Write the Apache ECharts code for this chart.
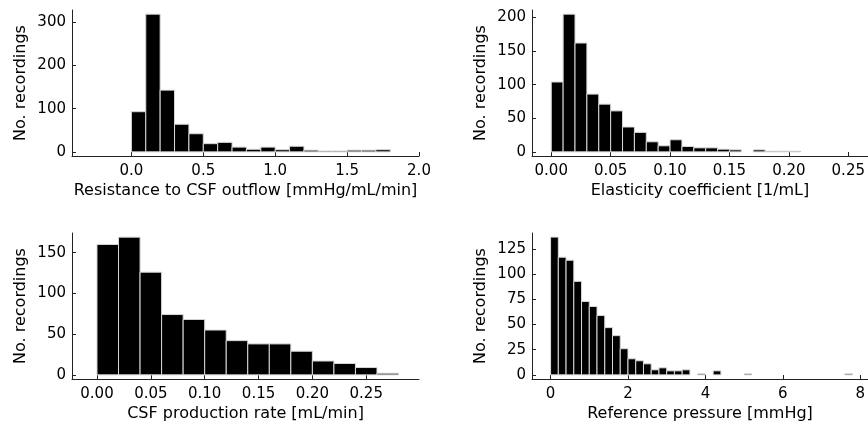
<!DOCTYPE html>
<html>
<head>
<meta charset="utf-8">
<script src="https://cdn.jsdelivr.net/npm/echarts@6/dist/echarts.min.js"></script>
<style>
html,body{margin:0;padding:0;background:#fff;}
#c{width:868px;height:424px;}
</style>
</head>
<body>
<div id="c"></div>
<script>
// ---- Data ----
// Panel 1: Resistance to CSF outflow, bins of 0.1 starting at 0
const resStart = 0, resWidth = 0.1;
const resCounts = [93, 319, 143, 64, 42, 19, 22, 11, 6, 11, 5, 13, 4, 2, 2, 4, 4, 5, 0];
const resTicksX = [0.0, 0.5, 1.0, 1.5, 2.0];
const resTicksY = [0, 100, 200, 300];

// Panel 2: Elasticity coefficient, bins of 0.01 starting at 0
const elaStart = 0, elaWidth = 0.01;
const elaCounts = [104, 205, 162, 86, 71, 61, 37, 29, 15, 9, 18, 8, 6, 6, 4, 3, 0, 3, 1, 1, 1, 0, 0, 0, 0, 0];
const elaTicksX = [0.00, 0.05, 0.10, 0.15, 0.20, 0.25];
const elaTicksY = [0, 50, 100, 150, 200];

// Panel 3: CSF production rate, bins of 0.02 starting at 0
const prodStart = 0, prodWidth = 0.02;
const prodCounts = [160, 169, 126, 74, 68, 55, 42, 38, 38, 29, 17, 14, 9, 2];
const prodTicksX = [0.00, 0.05, 0.10, 0.15, 0.20, 0.25];
const prodTicksY = [0, 50, 100, 150];

// Panel 4: Reference pressure, bins of 0.2 starting at 0
const refStart = 0, refWidth = 0.2;
const refCounts = [137, 117, 114, 93, 73, 68, 59, 47, 39, 26, 16, 14, 11, 5, 7, 4, 4, 5, 0, 1,
                   0, 4, 0, 0, 0, 1, 0, 0, 0, 0, 0, 0, 0, 0, 0, 0, 0, 0, 1];
const refTicksX = [0, 2, 4, 6, 8];
const refTicksY = [0, 25, 50, 75, 100, 125];

const panels = [
  {start: resStart, width: resWidth, counts: resCounts, tx: resTicksX, ty: resTicksY,
   xmin: -0.413, xmax: 2.0, ymin: -9.57, ymax: 328.6, dec: 1,
   xname: 'Resistance to CSF outflow [mmHg/mL/min]', grid: {left: 72, top: 10, width: 347, height: 146}},
  {start: elaStart, width: elaWidth, counts: elaCounts, tx: elaTicksX, ty: elaTicksY,
   xmin: -0.0162, xmax: 0.2666, ymin: -6.15, ymax: 211.15, dec: 2,
   xname: 'Elasticity coefficient [1/mL]', grid: {left: 532, top: 10, width: 336, height: 146}},
  {start: prodStart, width: prodWidth, counts: prodCounts, tx: prodTicksX, ty: prodTicksY,
   xmin: -0.0232, xmax: 0.299, ymin: -5.07, ymax: 174.07, dec: 2,
   xname: 'CSF production rate [mL/min]', grid: {left: 72, top: 233, width: 347, height: 146}},
  {start: refStart, width: refWidth, counts: refCounts, tx: refTicksX, ty: refTicksY,
   xmin: -0.48, xmax: 8.2, ymin: -4.11, ymax: 141.1, dec: 0,
   xname: 'Reference pressure [mmHg]', grid: {left: 532, top: 233, width: 336, height: 146}}
];

const FONT = 'DejaVu Sans';
const AX = '#222';

function renderItem(params, api) {
  const x0 = api.value(0), x1 = api.value(1), y = api.value(2);
  if (!y) return null;
  const p0 = api.coord([x0, y]);
  const p1 = api.coord([x1, 0]);
  return {
    type: 'rect',
    shape: {x: p0[0], y: p0[1], width: p1[0] - p0[0], height: p1[1] - p0[1]},
    style: {fill: '#000', stroke: '#d8d8d8', lineWidth: 1}
  };
}

const grids = [], xAxes = [], yAxes = [], series = [];
panels.forEach((p, i) => {
  grids.push(Object.assign({containLabel: false}, p.grid));
  xAxes.push({
    type: 'value', gridIndex: i, min: p.xmin, max: p.xmax,
    name: p.xname, nameLocation: 'middle', nameGap: 27,
    nameTextStyle: {fontFamily: FONT, fontSize: 16, color: '#000'},
    splitLine: {show: false},
    axisLine: {show: true, onZero: false, lineStyle: {color: AX, width: 1}},
    axisTick: {show: true, inside: true, length: 4, customValues: p.tx, lineStyle: {color: AX}},
    axisLabel: {customValues: p.tx, margin: 8, fontFamily: FONT, fontSize: 15, color: '#000',
      formatter: v => Number(v).toFixed(p.dec)}
  });
  yAxes.push({
    type: 'value', gridIndex: i, min: p.ymin, max: p.ymax,
    name: 'No. recordings', nameLocation: 'middle', nameGap: 43,
    nameTextStyle: {fontFamily: FONT, fontSize: 16, color: '#000'},
    splitLine: {show: false},
    axisLine: {show: true, onZero: false, lineStyle: {color: AX, width: 1}},
    axisTick: {show: true, inside: true, length: 4, customValues: p.ty, lineStyle: {color: AX}},
    axisLabel: {customValues: p.ty, margin: 6, fontFamily: FONT, fontSize: 15, color: '#000',
      formatter: v => String(Math.round(v))}
  });
  const data = p.counts.map((c, k) => [p.start + k * p.width, p.start + (k + 1) * p.width, c]);
  series.push({
    type: 'custom', xAxisIndex: i, yAxisIndex: i, renderItem: renderItem,
    data: data, encode: {x: [0, 1], y: 2}, clip: true, silent: true
  });
});

const chart = echarts.init(document.getElementById('c'), null, {renderer: 'canvas'});
chart.setOption({
  animation: false,
  backgroundColor: '#fff',
  grid: grids, xAxis: xAxes, yAxis: yAxes, series: series
});
</script>
</body>
</html>
